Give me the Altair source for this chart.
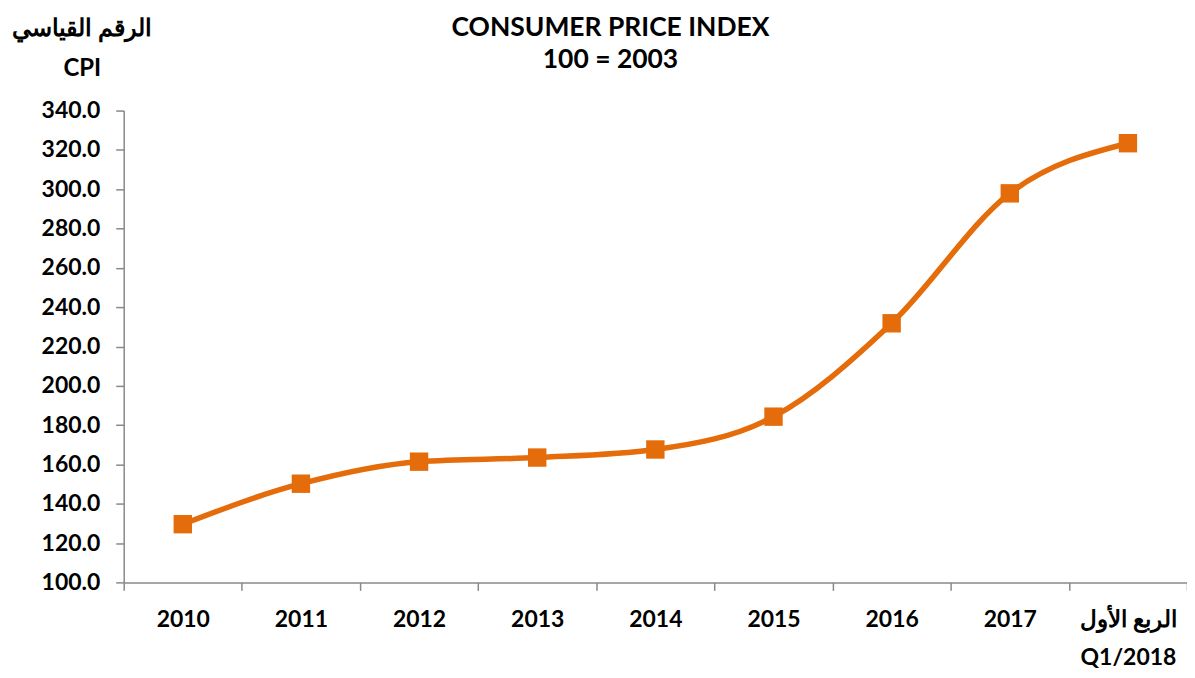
import altair as alt
import pandas as pd

categories = ["2010", "2011", "2012", "2013", "2014", "2015", "2016", "2017", "الربع الأول|Q1/2018"]
cpi = [129.6, 150.2, 161.4, 163.5, 167.6, 184.3, 231.8, 297.9, 323.4]
y_ticks = [100, 120, 140, 160, 180, 200, 220, 240, 260, 280, 300, 320, 340]
title_lines = ["CONSUMER PRICE INDEX", "100 = 2003"]

df = pd.DataFrame({"cat": categories, "cpi": cpi})

FONT = "Lato"
ORANGE = "#E46C0A"
AXIS = "#898989"

x = alt.X(
    "cat:N",
    sort=categories,
    scale=alt.Scale(paddingInner=0, paddingOuter=0),
    axis=alt.Axis(
        title=None,
        labelAngle=0,
        labelExpr="split(datum.label, '|')",
        labelFont=FONT,
        labelFontSize=23,
        labelFontWeight="bold",
        labelColor="black",
        labelPadding=18,
        labelLineHeight=38,
        labelBaseline="top",
        tickBand="extent",
        tickColor=AXIS,
        tickSize=8,
        tickWidth=1.5,
        domainColor=AXIS,
        domainWidth=1.5,
        grid=False,
    ),
)

y = alt.Y(
    "cpi:Q",
    scale=alt.Scale(domain=[100, 340], nice=False, zero=False),
    axis=alt.Axis(
        values=y_ticks,
        format=".1f",
        title=["الرقم القياسي", "CPI"],
        titleAngle=0,
        titleAlign="center",
        titleBaseline="alphabetic",
        titleX=-42,
        titleY=-75,
        titleFont=FONT,
        titleFontSize=24,
        titleFontWeight="bold",
        titleColor="black",
        titleLineHeight=40,
        labelFont=FONT,
        labelFontSize=23,
        labelFontWeight="bold",
        labelColor="black",
        labelPadding=16,
        tickColor=AXIS,
        tickSize=8,
        tickWidth=1.5,
        domainColor=AXIS,
        domainWidth=1.5,
        grid=False,
    ),
)

line = alt.Chart(df).mark_line(
    interpolate="monotone", color=ORANGE, strokeWidth=5.5
).encode(x=x, y=y)

pts = alt.Chart(df).mark_point(
    shape="square", filled=True, color=ORANGE, size=340, opacity=1
).encode(x=x, y=y)

title_df = pd.DataFrame({"t": title_lines[:1]})
t1 = alt.Chart(title_df).mark_text(
    font=FONT, fontSize=26.5, fontWeight="bold", color="black", align="center", baseline="middle"
).encode(x=alt.value(488), y=alt.value(-83), text="t:N")
title_df2 = pd.DataFrame({"t": title_lines[1:]})
t2 = alt.Chart(title_df2).mark_text(
    font=FONT, fontSize=26.5, fontWeight="bold", color="black", align="center", baseline="middle"
).encode(x=alt.value(488), y=alt.value(-51), text="t:N")

chart = (
    alt.layer(line, pts, t1, t2)
    .properties(
        width=1066,
        height=473,
        autosize=alt.AutoSizeParams(type="none"),
        padding={"left": 116, "top": 102, "right": 0, "bottom": 90},
    )
    .configure_view(stroke=None)
)

chart.save("out.html", embed_options={"renderer": "svg", "actions": False})
